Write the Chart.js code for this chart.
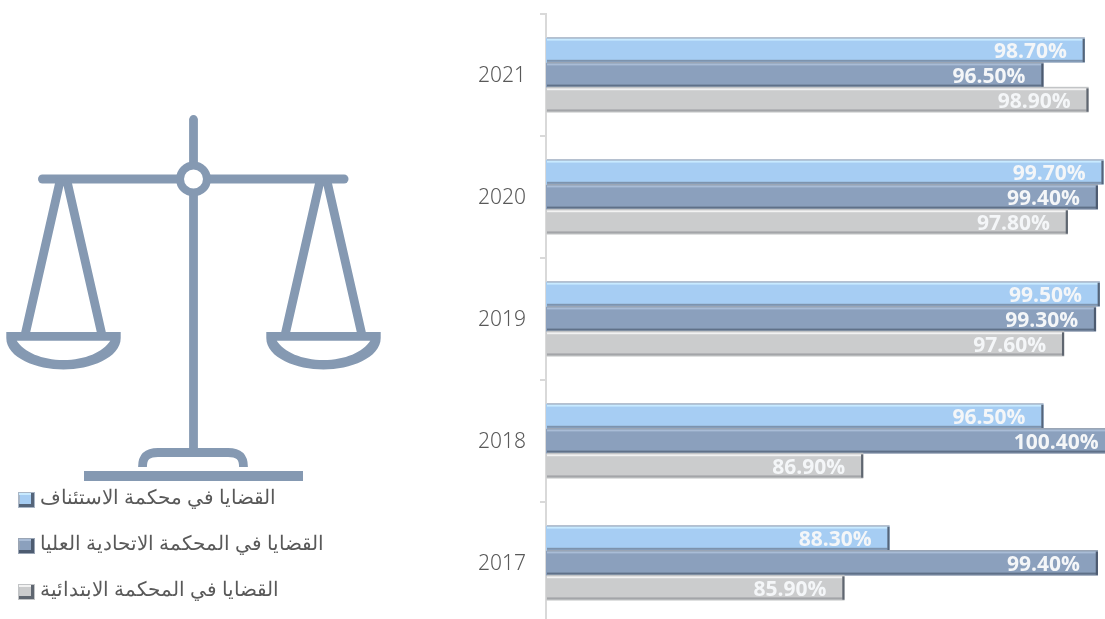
<!DOCTYPE html>
<html lang="ar"><head><meta charset="utf-8">
<style>
html,body{margin:0;padding:0;background:#fff;overflow:hidden}
#wrap{position:relative;width:1105px;height:619px;overflow:hidden}
canvas{position:absolute;left:0;top:0}
svg{position:absolute;left:0;top:0}
</style>
<script src="https://cdn.jsdelivr.net/npm/chart.js@4/dist/chart.umd.min.js"></script>
</head><body>
<div id="wrap">
<canvas id="c" width="1128" height="624" style="width:1128px;height:624px"></canvas>
<svg width="400" height="490" viewBox="0 0 400 490" aria-hidden="true">
 <g fill="none" stroke="#8599b2" stroke-width="8.8">
  <path d="M193.5 119.5V450" stroke-linecap="round"/>
  <path d="M42.5 179H344" stroke-width="9" stroke-linecap="round"/>
  <path d="M25.5 333L60.5 179M101.5 333L66.5 179M285.5 333L320.5 179M361.5 333L326.5 179"/>
  <path d="M142.5 467C142.5 456 148 452.5 158 452.5H228C238 452.5 243.5 456 243.5 467"/>
 </g>
 <circle cx="193.5" cy="179" r="13.5" fill="#fff" stroke="#8599b2" stroke-width="8"/>
 <g fill="#8599b2" fill-rule="evenodd">
  <path d="M6.3 332H120.7V338C120.7 358 90 369.5 63.5 369.5C37 369.5 6.3 358 6.3 338ZM16.7 340.7H110.3C103 352 85 360 63.5 360C42 360 24 352 16.7 340.7Z"/>
  <path d="M266.3 332H380.7V338C380.7 358 350 369.5 323.5 369.5C297 369.5 266.3 358 266.3 338ZM276.7 340.7H370.3C363 352 345 360 323.5 360C302 360 284 352 276.7 340.7Z"/>
  <rect x="84" y="471" width="219" height="10"/>
 </g>
</svg>
</div>
<script>
const categories = ['2021','2020','2019','2018','2017'];
const appealValues  = [98.7, 99.7, 99.5, 96.5, 88.3];
const supremeValues = [96.5, 99.4, 99.3, 100.4, 99.4];
const firstValues   = [98.9, 97.8, 97.6, 86.9, 85.9];
const seriesLabels = ['القضايا في محكمة الاستئناف','القضايا في المحكمة الاتحادية العليا','القضايا في المحكمة الابتدائية'];
const fills = ['#a6cdf3','#8ba0bd','#cbcccd'];
const lights = ['#c8eaff','#a9bcd6','#f2f2f2'];
const darks = ['#7d93ad','#5f7088','#a3a5a8'];
const rights = ['#55657a','#4d5b70','#5f6670'];
const edges = ['#a9b6c6','#9aa5b5','#c2c4c6'];
const txtFont = '"Noto Sans","Open Sans",sans-serif';

const bevel = {
 id:'bevel',
 afterDatasetsDraw(chart){
  const ctx = chart.ctx;
  const left = chart.chartArea.left;
  chart.data.datasets.forEach((ds,i)=>{
   chart.getDatasetMeta(i).data.forEach(b=>{
    const x0=left+1, x1=b.x, h=b.height, y0=b.y-h/2, y1=b.y+h/2;
    ctx.save();
    ctx.fillStyle=edges[i];  ctx.fillRect(x0,y0-0.6,x1-x0,1.6);
    ctx.fillRect(x0,y1-0.8,x1-x0,1);
    ctx.fillStyle=lights[i]; ctx.fillRect(x0,y0+1,x1-x0-2,1.8);
    ctx.fillStyle=darks[i];  ctx.fillRect(x0,y1-2.8,x1-x0-2,2);
    ctx.fillStyle=rights[i]; ctx.fillRect(x1-2.2,y0+1,2.2,h-1.5);
    ctx.restore();
   });
  });
 },
 afterDraw(chart){
  const ctx = chart.ctx, xs = chart.scales.x;
  ctx.save();
  ctx.font = '700 21px "Open Sans",sans-serif';
  ctx.textAlign='right'; ctx.textBaseline='middle';
  ctx.fillStyle='#f4f6f8';
  chart.data.datasets.forEach((ds,i)=>{
   chart.getDatasetMeta(i).data.forEach((b,k)=>{
    ctx.fillText(ds.data[k].toFixed(2)+'%', xs.getPixelForValue(ds.data[k])-18, b.y+2);
   });
  });
  // legend
  ctx.textAlign='left';
  ctx.font='300 19.6px '+txtFont;
  chart.data.datasets.forEach((ds,i)=>{
   const y=[492,538,584][i];
   ctx.fillStyle=edges[i]; ctx.fillRect(18,y,17,16);
   ctx.fillStyle=rights[i]; ctx.fillRect(31,y+1,3,14); ctx.fillRect(19,y+12,15,3);
   ctx.fillStyle=lights[i]; ctx.fillRect(19,y+1,12,2);
   ctx.fillStyle=fills[i]; ctx.fillRect(20,y+3,11,9);
   ctx.fillStyle='#595959';
   ctx.fillText(ds.label,40,y+6);
  });
  ctx.restore();
 }
};

new Chart(document.getElementById('c'),{
 type:'bar',
 data:{labels:categories,datasets:[
  {label:seriesLabels[0],data:appealValues,backgroundColor:fills[0]},
  {label:seriesLabels[1],data:supremeValues,backgroundColor:fills[1]},
  {label:seriesLabels[2],data:firstValues,backgroundColor:fills[2]}
 ]},
 options:{
  indexAxis:'y',responsive:false,animation:false,
  layout:{padding:{top:14,left:0,right:0,bottom:0}},
  categoryPercentage:0.61,barPercentage:1,
  plugins:{legend:{display:false},tooltip:{enabled:false}},
  scales:{
   x:{display:false,min:70,max:101},
   y:{
    afterFit(s){s.width=546;s.paddingTop=0;s.paddingBottom=0;},
    border:{display:true,color:'#d9d9d9',width:2},
    grid:{display:true,drawOnChartArea:false,color:'#d9d9d9',lineWidth:2,tickLength:6},
    ticks:{color:'#595959',font:{family:txtFont,size:21,weight:'300'},padding:14,labelOffset:1}
   }
  }
 },
 plugins:[bevel]
});
</script>
</body></html>
